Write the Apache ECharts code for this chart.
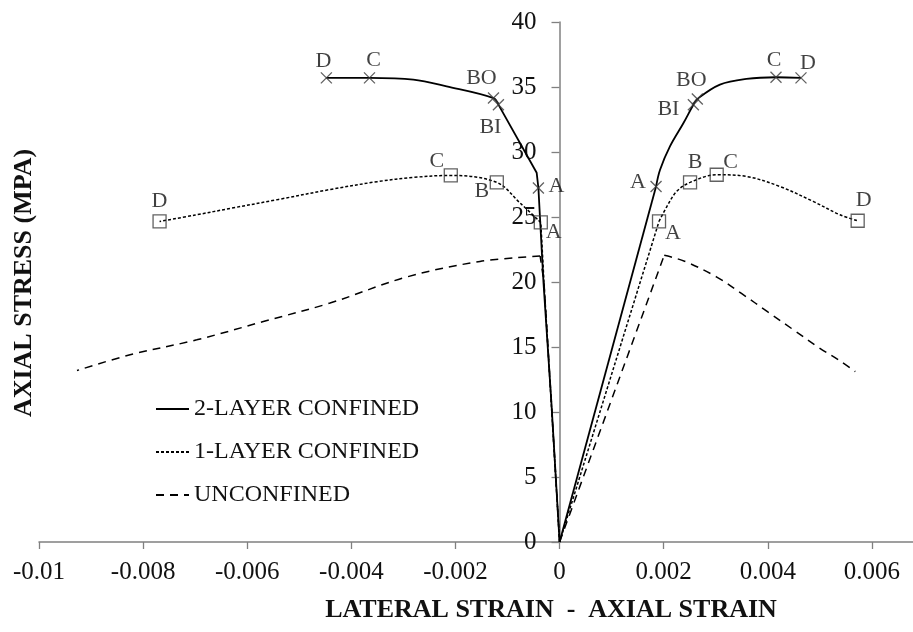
<!DOCTYPE html>
<html>
<head>
<meta charset="utf-8">
<script src="https://cdn.jsdelivr.net/npm/echarts@6/dist/echarts.min.js"></script>
<style>
  html, body { margin: 0; padding: 0; background: #fff; }
  #chart { width: 913px; height: 632px; }
</style>
</head>
<body>
<div id="chart"></div>
<script>
// Stress-strain response of plain and FRP-confined specimens.
// Negative strain = lateral strain, positive strain = axial strain; stress in MPa.

const seriesNames = ['2-LAYER CONFINED', '1-LAYER CONFINED', 'UNCONFINED'];
const xTickValues = [-0.01, -0.008, -0.006, -0.004, -0.002, 0, 0.002, 0.004, 0.006];
const yTickValues = [0, 5, 10, 15, 20, 25, 30, 35, 40];

// 2-layer confined: curve points and labelled stages [label, strain, stress]
const twoLayerLateralCurve = [[0, 0], [-0.00016, 10.9], [-0.00031, 20.0], [-0.00044, 28.4],
  [-0.00217, 35.05], [-0.00281, 35.57]];
const twoLayerLateralKeys = [['A', -0.000407, 27.23], ['BI', -0.001175, 33.64], ['BO', -0.00127, 34.15],
  ['C', -0.003652, 35.70], ['D', -0.00448, 35.70]];
const twoLayerAxialCurve = [[0, 0], [0.00193, 28.64], [0.00212, 30.43],
  [0.00238, 32.23], [0.00308, 35.18], [0.00359, 35.62]];
const twoLayerAxialKeys = [['A', 0.001853, 27.35], ['BI', 0.00257, 33.64], ['BO', 0.002646, 34.08],
  ['C', 0.004157, 35.75], ['D', 0.004637, 35.70]];

// 1-layer confined
const oneLayerLateralCurve = [[0, 0], [-0.0003, 20.0], [-0.000758, 26.07],
  [-0.0028, 28.05], [-0.0035, 27.72], [-0.0044, 27.12], [-0.0054, 26.35], [-0.0063, 25.68], [-0.007, 25.15]];
const oneLayerLateralKeys = [['A', -0.000361, 24.58], ['B', -0.001206, 27.66], ['C', -0.00209, 28.2],
  ['D', -0.007684, 24.66]];
const oneLayerAxialCurve = [[0, 0], [0.00206, 25.8], [0.00225, 26.97],
  [0.00359, 28.12], [0.00423, 27.35], [0.00487, 26.2], [0.005386, 25.17]];
const oneLayerAxialKeys = [['A', 0.00191, 24.66], ['B', 0.002506, 27.66], ['C', 0.003018, 28.25],
  ['D', 0.005726, 24.71]];

// Unconfined
const unconfinedLateral = [[0, 0], [-0.00016, 10.9], [-0.0003, 20.0], [-0.000374, 22.0], [-0.00153, 21.58],
  [-0.00294, 20.38], [-0.00441, 18.38], [-0.00569, 16.96], [-0.00697, 15.55], [-0.00825, 14.4], [-0.00927, 13.19]];
const unconfinedAxial = [[0, 0], [0.00201, 22.05], [0.0024, 21.6], [0.00302, 20.38],
  [0.0035, 19.1], [0.004, 17.7], [0.0045, 16.3], [0.005, 14.9], [0.0054, 13.9], [0.00568, 13.1]];

// strain at which the near-linear rising branch ends and the curved part begins
const riseEnd = {
  twoLat: -0.001175, twoAx: 0.001853, oneLat: -0.000361, oneAx: 0.00191,
  unLat: -0.000374, unAx: 0.00201
};

// label offsets (px) of each stage marker, per branch
const labelOffsets = {
  twoLat: { A: [18, -2], BI: [-8, 23], BO: [-12, -20], C: [4, -18], D: [-3, -17] },
  twoAx: { A: [-18, -4], BI: [-25, 5], BO: [-6, -19], C: [-2, -17], D: [7, -15] },
  oneLat: { A: [13, 10], B: [-15, 9], C: [-14, -14], D: [0, -20] },
  oneAx: { A: [14, 12], B: [5, -20], C: [14, -13], D: [6, -21] }
};

const SERIF = '"Liberation Serif", "Times New Roman", serif';

function mergePoints(curve, keys) {
  const pts = curve.map(p => [p[0], p[1]]).concat((keys || []).map(k => [k[1], k[2]]));
  pts.sort((a, b) => Math.abs(a[0]) - Math.abs(b[0]) || a[1] - b[1]);
  return pts;
}

const lineStyles = {
  '2-LAYER CONFINED': { color: '#000', width: 1.8, type: 'solid' },
  '1-LAYER CONFINED': { color: '#000', width: 1.5, type: [3, 2] },
  'UNCONFINED': { color: '#000', width: 1.5, type: [8, 6] }
};

function lineSeries(name, data, smooth) {
  return {
    name: name, type: 'line', data: data, smooth: smooth, symbol: 'none', showSymbol: false,
    lineStyle: lineStyles[name], itemStyle: { color: '#000' },
    z: 2, silent: true
  };
}

// a branch = straight rising part up to riseEnd, then a smoothed curve
function branchSeries(name, id, curve, keys) {
  const pts = mergePoints(curve, keys);
  const lim = Math.abs(riseEnd[id]);
  const rise = pts.filter(p => Math.abs(p[0]) <= lim + 1e-12);
  const rest = pts.filter(p => Math.abs(p[0]) >= lim - 1e-12);
  return [lineSeries(name, rise, false), lineSeries(name, rest, 0.35)];
}

const crossPath = 'path://M0,0L12,12M12,0L0,12';

function markerSeries(id, keys, symbol, size) {
  const offs = labelOffsets[id];
  return {
    name: 'stage-' + id, type: 'scatter', symbol: symbol, symbolSize: size,
    itemStyle: { color: 'rgba(0,0,0,0)', borderColor: '#3a3a3a', borderWidth: 1.3 },
    z: 3, silent: true,
    data: keys.map(k => ({
      name: k[0], value: [k[1], k[2]],
      label: { show: true, position: 'inside', offset: offs[k[0]], formatter: '{b}',
        fontFamily: SERIF, fontSize: 22, color: '#111' }
    }))
  };
}

const chart = echarts.init(document.getElementById('chart'), null, { renderer: 'canvas' });

// x = 0 sits at 559.5 px, where the stress axis is drawn
const gridLeft = 39;
const zeroX = 559.5;

chart.setOption({
  animation: false,
  backgroundColor: '#fff',
  grid: { left: gridLeft, right: -11, top: 22, bottom: 90, containLabel: false, outerBoundsMode: 'none' },
  xAxis: {
    type: 'value', min: -0.01, max: 0.007, interval: 0.002,
    axisLine: { onZero: false, lineStyle: { color: '#808080', width: 1.5 } },
    axisTick: { show: true, length: 7, lineStyle: { color: '#808080', width: 1.3 } },
    axisLabel: {
      margin: 18, fontFamily: SERIF, fontSize: 25, color: '#111',
      formatter: v => xTickValues.some(t => Math.abs(t - v) < 1e-9) ? String(+v.toFixed(3)) : ''
    },
    splitLine: { show: false }
  },
  yAxis: {
    type: 'value', min: 0, max: 40, interval: 5, position: 'left',
    offset: -(zeroX - gridLeft),
    axisLine: { show: true, onZero: false, lineStyle: { color: '#808080', width: 1.5 } },
    axisTick: { show: true, length: 8, lineStyle: { color: '#808080', width: 1.3 } },
    axisLabel: {
      margin: 23, fontFamily: SERIF, fontSize: 25, color: '#111',
      formatter: v => yTickValues.indexOf(v) >= 0 ? String(v) : ''
    },
    splitLine: { show: false }
  },
  legend: {
    data: seriesNames, orient: 'vertical', left: 155, top: 397, padding: 0,
    itemWidth: 33, itemHeight: 14, itemGap: 19,
    itemStyle: { opacity: 0 },
    textStyle: { fontFamily: SERIF, fontSize: 24, color: '#111' },
    selectedMode: false
  },
  graphic: [
    { type: 'text', x: 551, y: 610, style: { text: 'LATERAL STRAIN  -  AXIAL STRAIN', fill: '#111',
        font: 'bold 26px ' + SERIF, textAlign: 'center', textVerticalAlign: 'middle' } },
    { type: 'text', x: 24, y: 283, rotation: Math.PI / 2, style: { text: 'AXIAL STRESS (MPA)', fill: '#111',
        font: 'bold 26px ' + SERIF, textAlign: 'center', textVerticalAlign: 'middle' } }
  ],
  series: [].concat(
    branchSeries(seriesNames[0], 'twoLat', twoLayerLateralCurve, twoLayerLateralKeys),
    branchSeries(seriesNames[0], 'twoAx', twoLayerAxialCurve, twoLayerAxialKeys),
    branchSeries(seriesNames[1], 'oneLat', oneLayerLateralCurve, oneLayerLateralKeys),
    branchSeries(seriesNames[1], 'oneAx', oneLayerAxialCurve, oneLayerAxialKeys),
    branchSeries(seriesNames[2], 'unLat', unconfinedLateral),
    branchSeries(seriesNames[2], 'unAx', unconfinedAxial),
    [
      markerSeries('twoLat', twoLayerLateralKeys, crossPath, 11),
      markerSeries('twoAx', twoLayerAxialKeys, crossPath, 11),
      markerSeries('oneLat', oneLayerLateralKeys, 'rect', 13),
      markerSeries('oneAx', oneLayerAxialKeys, 'rect', 13)
    ]
  )
});
</script>
</body>
</html>
